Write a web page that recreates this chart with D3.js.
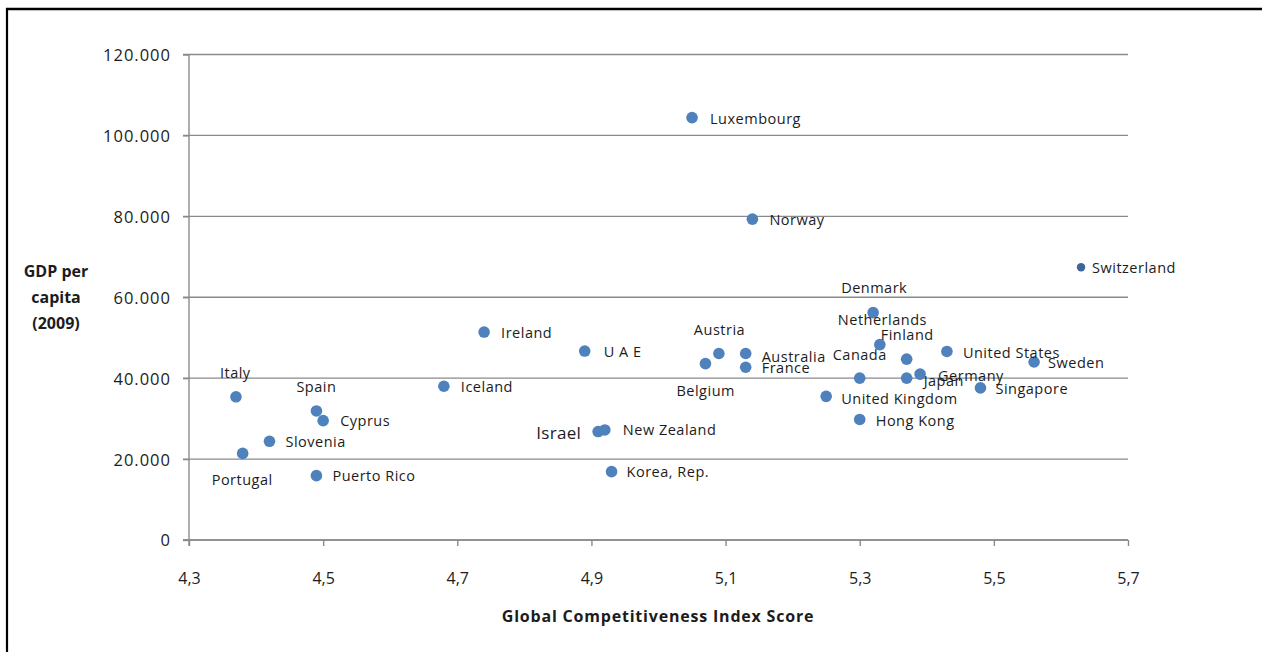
<!DOCTYPE html>
<html>
<head>
<meta charset="utf-8">
<script src="https://cdn.jsdelivr.net/npm/d3@7"></script>
<style>
  html, body { margin: 0; padding: 0; background: #fff; }
  svg { display: block; }
  text { font-family: "Open Sans", "Liberation Sans", sans-serif; fill: #1c1c1c; }
</style>
</head>
<body>
<svg id="chart" width="1262" height="652"></svg>
<script>
// ---- data ----
const countries = ["Luxembourg","Norway","Switzerland","Denmark","Netherlands","Finland","Canada",
  "United States","Sweden","Japan","Germany","Singapore","United Kingdom","Hong Kong",
  "UAE","Austria","Belgium","Australia","France","Israel","New Zealand","Korea, Rep.",
  "Ireland","Iceland","Italy","Spain","Cyprus","Slovenia","Portugal","Puerto Rico"];
const labels = ["Luxembourg","Norway","Switzerland","Denmark","Netherlands","Finland","Canada",
  "United States","Sweden","Japan","Germany","Singapore","United Kingdom","Hong Kong",
  "U A E","Austria","Belgium","Australia","France","Israel","New Zealand","Korea, Rep.",
  "Ireland","Iceland","Italy","Spain","Cyprus","Slovenia","Portugal","Puerto Rico"];
const gciScore = [5.05,5.14,5.63,5.32,5.33,5.37,5.30,
  5.43,5.56,5.37,5.39,5.48,5.25,5.30,
  4.89,5.09,5.07,5.13,5.13,4.91,4.92,4.93,
  4.74,4.68,4.37,4.49,4.50,4.42,4.38,4.49];
const gdpPerCapita = [104400,79300,67400,56200,48300,44700,40000,
  46600,44000,40000,41000,37600,35500,29800,
  46700,46100,43600,46100,42700,26800,27200,16900,
  51400,38000,35400,31900,29500,24400,21400,15900];
const xTicks = [4.3,4.5,4.7,4.9,5.1,5.3,5.5,5.7];
const yTicks = [0,20000,40000,60000,80000,100000,120000];
const xTitle = "Global Competitiveness Index Score";
const yTitle = ["GDP per","capita","(2009)"];

// ---- label placement (px offsets from the point, as in the reference) ----
const labelOffset = {
  "Luxembourg":[18,1],"Norway":[17,1],"Switzerland":[11,0],"Denmark":[-32,-25],
  "Netherlands":[-42,-25],"Finland":[-26,-24],"Canada":[-27,-23],"United States":[16,1],
  "Sweden":[14,1],"Japan":[17,3],"Germany":[18,2],"Singapore":[15,1],"United Kingdom":[15,2],
  "Hong Kong":[16,1],"UAE":[19,1],"Austria":[-25,-24],"Belgium":[-29,27],"Australia":[16,3],
  "France":[16,1],"Israel":[-17,1],"New Zealand":[18,0],"Korea, Rep.":[15,0],"Ireland":[17,1],
  "Iceland":[17,1],"Italy":[-16,-24],"Spain":[-20,-24],"Cyprus":[17,0],"Slovenia":[16,0],
  "Portugal":[-31,26],"Puerto Rico":[16,0]
};

const svg = d3.select("#chart");
const x = d3.scaleLinear().domain([4.3, 5.7]).range([189, 1128]);
const y = d3.scaleLinear().domain([0, 120000]).range([540, 54.5]);

// frame
svg.append("line").attr("x1", 6).attr("x2", 1262).attr("y1", 9).attr("y2", 9)
  .attr("stroke", "#000").attr("stroke-width", 2.5);
svg.append("line").attr("x1", 7).attr("x2", 7).attr("y1", 8).attr("y2", 652)
  .attr("stroke", "#000").attr("stroke-width", 2.2);

// gridlines
svg.append("g").selectAll("line").data(yTicks).join("line")
  .attr("x1", 183).attr("x2", 1128)
  .attr("y1", d => y(d)).attr("y2", d => y(d))
  .attr("stroke", "#8a8a8a").attr("stroke-width", 1.4);

// y axis
const yAxis = svg.append("g").attr("transform", "translate(189,0)")
  .call(d3.axisLeft(y).tickValues(yTicks).tickSize(6).tickPadding(12)
    .tickFormat(d => d === 0 ? "0" : d3.format(",")(d).replace(/,/g, ".")));
yAxis.select(".domain").attr("stroke", "#8a8a8a").attr("stroke-width", 1.4)
  .attr("d", "M0,54.5V546");
yAxis.selectAll(".tick line").attr("stroke", "#8a8a8a").attr("stroke-width", 1.4);
yAxis.selectAll(".tick text").attr("font-size", 16.5).attr("font-family", "Open Sans")
  .attr("letter-spacing", "1px").attr("fill", "#1c1c1c").attr("dy", "0.36em");

// x axis
const xAxis = svg.append("g").attr("transform", "translate(0,540)")
  .call(d3.axisBottom(x).tickValues(xTicks).tickSize(6).tickPadding(27)
    .tickFormat(d => d3.format(".1f")(d).replace(".", ",")));
xAxis.select(".domain").attr("stroke", "#8a8a8a").attr("stroke-width", 1.4)
  .attr("d", "M183,0H1128");
xAxis.selectAll(".tick line").attr("stroke", "#8a8a8a").attr("stroke-width", 1.4);
xAxis.selectAll(".tick text").attr("font-size", 16).attr("font-family", "Open Sans")
  .attr("fill", "#1c1c1c");

// titles
svg.append("text").attr("x", 658).attr("y", 622).attr("text-anchor", "middle")
  .attr("font-size", 16).attr("font-weight", "bold").attr("letter-spacing", "0.8px").text(xTitle);
svg.selectAll(".ytitle").data(yTitle).join("text").attr("class", "ytitle")
  .attr("x", 56).attr("y", (d, i) => 277 + i * 26).attr("text-anchor", "middle")
  .attr("font-size", 16).attr("font-weight", "bold").text(d => d);

// points
const pts = countries.map((c, i) => ({c, label: labels[i], gx: gciScore[i], gy: gdpPerCapita[i]}));
svg.append("g").selectAll("circle").data(pts).join("circle")
  .attr("cx", d => x(d.gx)).attr("cy", d => y(d.gy))
  .attr("r", d => d.c === "Switzerland" ? 4.2 : 5.8)
  .attr("fill", d => d.c === "Switzerland" ? "#3e6597" : "#4f81bd");

// labels
svg.append("g").selectAll("text").data(pts).join("text")
  .attr("x", d => x(d.gx) + labelOffset[d.c][0])
  .attr("y", d => y(d.gy) + labelOffset[d.c][1])
  .attr("dy", "0.36em")
  .attr("text-anchor", d => d.c === "Israel" ? "end" : "start")
  .attr("font-size", d => d.c === "Israel" ? 17 : 14.5)
  .attr("letter-spacing", d => d.c === "Israel" ? "0.3px" : "0.5px")
  .attr("fill", d => d.c === "UAE" ? "#a5443f" : "#1c1c1c")
  .text(d => d.label);
</script>
</body>
</html>
